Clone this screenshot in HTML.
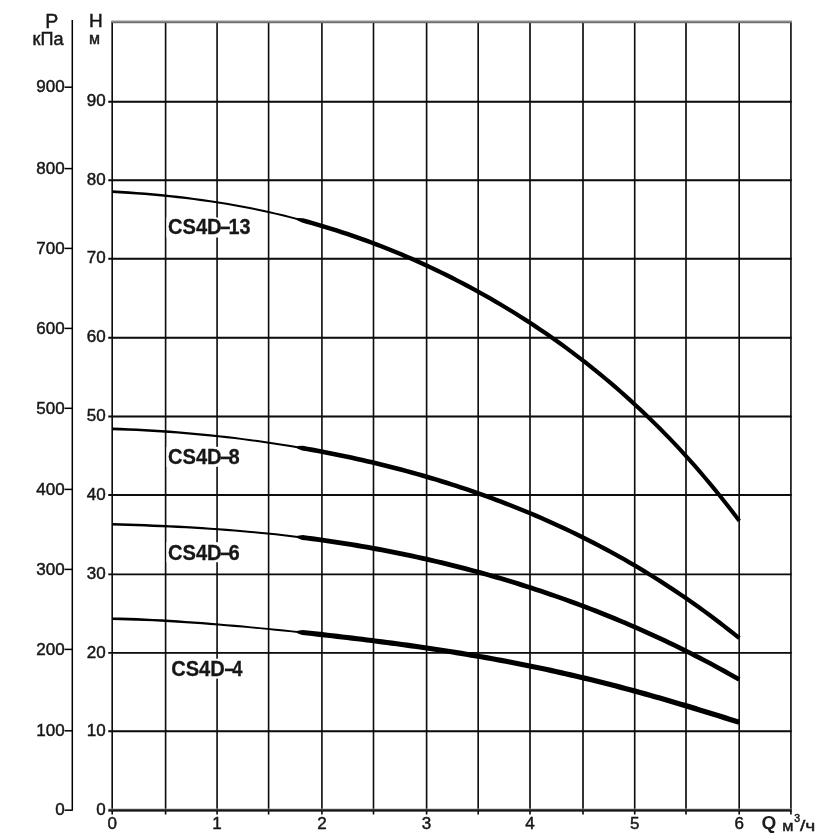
<!DOCTYPE html>
<html lang="ru"><head><meta charset="utf-8"><title>CS4D</title>
<style>html,body{margin:0;padding:0;background:#fff;}body{width:840px;height:840px;overflow:hidden;}svg{display:block;}text{font-family:"Liberation Sans",Arial,Helvetica,sans-serif;fill:#151515;}.n{font-size:17px;stroke:#151515;stroke-width:0.45px;}.b{font-size:21.5px;font-weight:bold;fill:#161616;stroke:#161616;stroke-width:0.3px;}.u{stroke:#151515;stroke-width:0.45px;}</style></head><body>
<svg width="840" height="840" viewBox="0 0 840 840">
<rect width="840" height="840" fill="#fff"/>
<filter id="bl" x="0" y="0" width="840" height="840" filterUnits="userSpaceOnUse"><feGaussianBlur stdDeviation="0.5"/></filter>
<g filter="url(#bl)">
<g stroke="#080808" stroke-width="1.6" fill="none">
<line x1="112.20" y1="21.20" x2="112.20" y2="814.60"/>
<line x1="165.60" y1="21.20" x2="165.60" y2="814.60"/>
<line x1="217.10" y1="21.20" x2="217.10" y2="814.60"/>
<line x1="268.60" y1="21.20" x2="268.60" y2="814.60"/>
<line x1="321.90" y1="21.20" x2="321.90" y2="814.60"/>
<line x1="373.50" y1="21.20" x2="373.50" y2="814.60"/>
<line x1="426.60" y1="21.20" x2="426.60" y2="814.60"/>
<line x1="478.20" y1="21.20" x2="478.20" y2="814.60"/>
<line x1="530.00" y1="21.20" x2="530.00" y2="814.60"/>
<line x1="583.00" y1="21.20" x2="583.00" y2="814.60"/>
<line x1="634.70" y1="21.20" x2="634.70" y2="814.60"/>
<line x1="686.00" y1="21.20" x2="686.00" y2="814.60"/>
<line x1="739.20" y1="21.20" x2="739.20" y2="814.60"/>
<line x1="790.90" y1="21.20" x2="790.90" y2="814.60"/>
</g>
<g stroke="#080808" stroke-width="1.9" fill="none">
<line x1="108.30" y1="101.70" x2="791.60" y2="101.70"/>
<line x1="108.30" y1="180.30" x2="791.60" y2="180.30"/>
<line x1="108.30" y1="258.80" x2="791.60" y2="258.80"/>
<line x1="108.30" y1="337.70" x2="791.60" y2="337.70"/>
<line x1="108.30" y1="416.50" x2="791.60" y2="416.50"/>
<line x1="108.30" y1="495.00" x2="791.60" y2="495.00"/>
<line x1="108.30" y1="574.40" x2="791.60" y2="574.40"/>
<line x1="108.30" y1="652.90" x2="791.60" y2="652.90"/>
<line x1="108.30" y1="731.30" x2="791.60" y2="731.30"/>
</g>
<defs><linearGradient id="gt" x1="0" y1="0" x2="0" y2="1"><stop offset="0" stop-color="#b4b4b4"/><stop offset="1" stop-color="#555"/></linearGradient><linearGradient id="gb" x1="0" y1="0" x2="0" y2="1"><stop offset="0" stop-color="#9a9a9a"/><stop offset="0.45" stop-color="#161616"/><stop offset="1" stop-color="#0a0a0a"/></linearGradient></defs>
<rect x="111.4" y="20.3" width="680.3" height="2.9" fill="url(#gt)"/>
<rect x="108.3" y="808.6" width="683.4" height="3" fill="url(#gb)"/>
<g stroke="#000" stroke-width="1.5" fill="none">
<line x1="72.3" y1="20" x2="72.3" y2="810.8"/>
<line x1="64.6" y1="87.20" x2="72.3" y2="87.20"/>
<line x1="64.6" y1="168.60" x2="72.3" y2="168.60"/>
<line x1="64.6" y1="248.40" x2="72.3" y2="248.40"/>
<line x1="64.6" y1="328.40" x2="72.3" y2="328.40"/>
<line x1="64.6" y1="408.30" x2="72.3" y2="408.30"/>
<line x1="64.6" y1="489.40" x2="72.3" y2="489.40"/>
<line x1="64.6" y1="569.40" x2="72.3" y2="569.40"/>
<line x1="64.6" y1="649.40" x2="72.3" y2="649.40"/>
<line x1="64.6" y1="730.80" x2="72.3" y2="730.80"/>
<line x1="64.6" y1="810.20" x2="72.3" y2="810.20"/>
</g>
<g fill="#fff">
<rect x="166.5" y="217.5" width="86" height="20"/>
<rect x="166.5" y="446.8" width="74" height="20"/>
<rect x="166.5" y="542.2" width="74" height="20"/>
<rect x="169.5" y="658.7" width="74" height="20"/>
</g>
<path d="M112.28,190.26 L120.45,190.78 L128.62,191.35 L136.79,191.96 L144.96,192.62 L153.13,193.34 L161.31,194.11 L169.48,194.95 L177.65,195.86 L185.82,196.83 L194.00,197.88 L202.17,199.00 L210.34,200.19 L218.51,201.47 L226.68,202.82 L234.86,204.25 L243.03,205.77 L251.20,207.37 L259.37,209.06 L267.55,210.84 L275.72,212.69 L283.90,214.62 L292.08,216.65 L300.26,218.78 L299.74,220.71 L291.59,218.57 L283.44,216.52 L275.29,214.56 L267.13,212.70 L258.97,210.96 L250.82,209.30 L242.66,207.73 L234.50,206.25 L226.34,204.85 L218.18,203.54 L210.03,202.31 L201.87,201.16 L193.71,200.09 L185.55,199.10 L177.39,198.17 L169.23,197.31 L161.08,196.52 L152.92,195.79 L144.76,195.12 L136.60,194.51 L128.44,193.95 L120.28,193.43 L112.12,192.96Z" fill="#000"/>
<path d="M297.79,217.99 L303.05,218.24 L308.03,219.60 L313.01,221.01 L317.98,222.44 L322.96,223.92 L327.94,225.43 L332.92,226.98 L337.89,228.56 L342.87,230.18 L347.85,231.84 L352.83,233.54 L357.80,235.27 L362.78,237.04 L367.76,238.85 L372.73,240.69 L377.71,242.58 L382.69,244.50 L387.67,246.46 L392.64,248.46 L397.62,250.50 L402.60,252.58 L407.57,254.70 L412.55,256.86 L417.52,259.06 L422.50,261.30 L427.48,263.57 L432.45,265.90 L437.43,268.26 L442.41,270.66 L447.38,273.11 L452.36,275.60 L457.33,278.13 L462.31,280.70 L467.29,283.32 L472.26,285.98 L477.24,288.69 L482.21,291.44 L487.19,294.24 L492.17,297.08 L497.14,299.97 L502.12,302.91 L507.09,305.90 L512.07,308.93 L517.04,312.02 L522.02,315.15 L526.99,318.33 L531.97,321.57 L536.95,324.86 L541.92,328.20 L546.90,331.59 L551.87,335.05 L556.85,338.55 L561.82,342.11 L566.80,345.73 L571.77,349.41 L576.75,353.15 L581.72,356.95 L586.70,360.81 L591.68,364.74 L596.65,368.73 L601.63,372.78 L606.60,376.91 L611.58,381.10 L616.55,385.36 L621.53,389.69 L626.50,394.10 L631.48,398.58 L636.45,403.13 L641.43,407.77 L646.40,412.48 L651.38,417.27 L656.35,422.15 L661.32,427.11 L666.30,432.16 L671.27,437.29 L676.25,442.52 L681.22,447.84 L686.20,453.25 L691.17,458.76 L696.14,464.37 L701.12,470.08 L706.09,475.90 L711.07,481.82 L716.04,487.84 L721.01,493.99 L725.99,500.24 L730.96,506.61 L735.93,513.10 L740.90,519.71 L737.70,522.10 L732.74,515.52 L727.79,509.06 L722.83,502.73 L717.88,496.50 L712.92,490.40 L707.97,484.40 L703.01,478.51 L698.06,472.72 L693.10,467.05 L688.15,461.47 L683.19,455.99 L678.24,450.60 L673.29,445.31 L668.33,440.12 L663.38,435.01 L658.43,429.99 L653.47,425.06 L648.52,420.21 L643.57,415.45 L638.61,410.76 L633.66,406.16 L628.71,401.63 L623.75,397.18 L618.80,392.80 L613.85,388.49 L608.89,384.26 L603.94,380.09 L598.99,376.00 L594.03,371.97 L589.08,368.00 L584.13,364.10 L579.18,360.27 L574.22,356.49 L569.27,352.77 L564.32,349.12 L559.37,345.52 L554.41,341.98 L549.46,338.50 L544.51,335.07 L539.55,331.70 L534.60,328.38 L529.65,325.11 L524.70,321.90 L519.74,318.74 L514.79,315.62 L509.84,312.56 L504.89,309.55 L499.93,306.58 L494.98,303.66 L490.03,300.79 L485.08,297.97 L480.13,295.19 L475.17,292.46 L470.22,289.77 L465.27,287.13 L460.32,284.53 L455.36,281.97 L450.41,279.46 L445.46,276.99 L440.51,274.56 L435.56,272.18 L430.60,269.83 L425.65,267.53 L420.70,265.27 L415.75,263.04 L410.80,260.86 L405.85,258.72 L400.89,256.62 L395.94,254.56 L390.99,252.53 L386.04,250.55 L381.09,248.60 L376.14,246.70 L371.19,244.83 L366.24,243.00 L361.28,241.21 L356.33,239.45 L351.38,237.73 L346.43,236.05 L341.48,234.41 L336.53,232.80 L331.58,231.23 L326.63,229.70 L321.68,228.20 L316.73,226.74 L311.78,225.32 L306.83,223.93 L301.88,222.57 L297.21,220.17Z" fill="#000"/>
<path d="M112.24,427.48 L120.41,427.78 L128.59,428.13 L136.76,428.53 L144.93,428.98 L153.10,429.47 L161.27,430.01 L169.44,430.61 L177.61,431.25 L185.78,431.94 L193.95,432.68 L202.12,433.47 L210.29,434.30 L218.46,435.19 L226.63,436.12 L234.80,437.10 L242.97,438.13 L251.14,439.21 L259.31,440.34 L267.48,441.53 L275.65,442.74 L283.82,444.00 L292.00,445.32 L300.17,446.69 L299.83,448.66 L291.67,447.27 L283.52,445.93 L275.36,444.64 L267.20,443.41 L259.04,442.26 L250.88,441.16 L242.72,440.11 L234.56,439.11 L226.40,438.17 L218.23,437.27 L210.07,436.43 L201.91,435.64 L193.75,434.90 L185.59,434.21 L177.43,433.57 L169.27,432.98 L161.11,432.43 L152.95,431.93 L144.79,431.49 L136.63,431.09 L128.47,430.73 L120.32,430.43 L112.16,430.17Z" fill="#000"/>
<path d="M297.70,446.09 L302.87,445.80 L307.84,446.67 L312.81,447.58 L317.79,448.50 L322.76,449.45 L327.73,450.41 L332.71,451.40 L337.68,452.41 L342.65,453.44 L347.63,454.50 L352.60,455.57 L357.57,456.67 L362.55,457.79 L367.52,458.94 L372.49,460.11 L377.47,461.30 L382.44,462.51 L387.41,463.75 L392.39,465.01 L397.36,466.30 L402.33,467.61 L407.31,468.95 L412.28,470.32 L417.26,471.70 L422.23,473.12 L427.20,474.56 L432.18,476.03 L437.15,477.52 L442.13,479.04 L447.10,480.59 L452.07,482.17 L457.05,483.78 L462.02,485.41 L467.00,487.07 L471.97,488.77 L476.95,490.49 L481.92,492.24 L486.90,494.02 L491.87,495.84 L496.84,497.68 L501.82,499.56 L506.79,501.47 L511.77,503.41 L516.74,505.39 L521.72,507.39 L526.69,509.43 L531.67,511.51 L536.64,513.62 L541.62,515.77 L546.59,517.95 L551.57,520.17 L556.54,522.42 L561.52,524.71 L566.50,527.04 L571.47,529.41 L576.45,531.81 L581.42,534.25 L586.40,536.74 L591.37,539.26 L596.35,541.83 L601.32,544.43 L606.30,547.08 L611.27,549.77 L616.25,552.50 L621.22,555.28 L626.20,558.10 L631.18,560.96 L636.15,563.87 L641.13,566.83 L646.10,569.83 L651.08,572.88 L656.05,575.98 L661.03,579.12 L666.00,582.31 L670.98,585.56 L675.95,588.85 L680.93,592.19 L685.90,595.59 L690.88,599.04 L695.85,602.54 L700.83,606.09 L705.80,609.70 L710.78,613.36 L715.75,617.08 L720.73,620.86 L725.70,624.69 L730.67,628.58 L735.65,632.53 L740.62,636.54 L737.98,639.80 L733.02,635.82 L728.07,631.89 L723.12,628.02 L718.16,624.21 L713.21,620.46 L708.26,616.77 L703.30,613.12 L698.35,609.54 L693.40,606.01 L688.44,602.53 L683.49,599.10 L678.54,595.73 L673.58,592.41 L668.63,589.13 L663.68,585.91 L658.72,582.74 L653.77,579.62 L648.82,576.54 L643.87,573.51 L638.91,570.53 L633.96,567.59 L629.01,564.70 L624.05,561.86 L619.10,559.06 L614.15,556.30 L609.20,553.59 L604.24,550.92 L599.29,548.29 L594.34,545.70 L589.39,543.15 L584.43,540.65 L579.48,538.18 L574.53,535.75 L569.57,533.37 L564.62,531.02 L559.67,528.70 L554.72,526.43 L549.76,524.19 L544.81,521.99 L539.86,519.83 L534.90,517.70 L529.95,515.60 L525.00,513.54 L520.04,511.51 L515.09,509.52 L510.14,507.56 L505.19,505.63 L500.23,503.74 L495.28,501.88 L490.33,500.05 L485.37,498.25 L480.42,496.48 L475.47,494.74 L470.51,493.03 L465.56,491.35 L460.60,489.70 L455.65,488.08 L450.70,486.48 L445.74,484.92 L440.79,483.38 L435.84,481.87 L430.88,480.39 L425.93,478.93 L420.97,477.50 L416.02,476.10 L411.06,474.72 L406.11,473.37 L401.16,472.04 L396.20,470.74 L391.25,469.46 L386.29,468.21 L381.34,466.98 L376.38,465.78 L371.43,464.60 L366.47,463.44 L361.52,462.31 L356.57,461.19 L351.61,460.11 L346.66,459.04 L341.70,457.99 L336.75,456.97 L331.79,455.97 L326.84,454.99 L321.88,454.04 L316.93,453.10 L311.97,452.18 L307.02,451.29 L302.06,450.41 L297.30,448.41Z" fill="#000"/>
<path d="M112.24,522.92 L120.41,523.19 L128.57,523.47 L136.74,523.77 L144.91,524.09 L153.08,524.44 L161.24,524.80 L169.41,525.20 L177.58,525.62 L185.75,526.07 L193.92,526.56 L202.09,527.07 L210.25,527.63 L218.42,528.21 L226.59,528.83 L234.76,529.49 L242.93,530.18 L251.10,530.92 L259.27,531.70 L267.44,532.53 L275.61,533.37 L283.78,534.26 L291.95,535.19 L300.12,536.17 L299.88,538.16 L291.72,537.15 L283.56,536.19 L275.40,535.28 L267.24,534.42 L259.08,533.63 L250.92,532.88 L242.76,532.18 L234.60,531.51 L226.43,530.89 L218.27,530.30 L210.11,529.76 L201.95,529.26 L193.79,528.79 L185.63,528.35 L177.46,527.94 L169.30,527.57 L161.14,527.22 L152.98,526.90 L144.81,526.61 L136.65,526.33 L128.49,526.08 L120.32,525.84 L112.16,525.62Z" fill="#000"/>
<path d="M297.65,535.64 L302.77,535.05 L307.74,535.68 L312.72,536.34 L317.69,537.02 L322.66,537.71 L327.63,538.42 L332.61,539.15 L337.58,539.90 L342.55,540.67 L347.53,541.46 L352.50,542.27 L357.47,543.10 L362.44,543.95 L367.42,544.82 L372.39,545.71 L377.36,546.62 L382.34,547.54 L387.31,548.49 L392.28,549.47 L397.26,550.46 L402.23,551.47 L407.20,552.50 L412.18,553.56 L417.15,554.63 L422.12,555.73 L427.10,556.85 L432.07,557.99 L437.04,559.15 L442.02,560.33 L446.99,561.54 L451.96,562.77 L456.94,564.02 L461.91,565.29 L466.88,566.58 L471.86,567.90 L476.83,569.24 L481.80,570.60 L486.78,571.99 L491.75,573.40 L496.73,574.83 L501.70,576.29 L506.67,577.77 L511.65,579.27 L516.62,580.80 L521.59,582.35 L526.57,583.92 L531.54,585.52 L536.51,587.15 L541.49,588.80 L546.46,590.47 L551.43,592.17 L556.41,593.89 L561.38,595.64 L566.36,597.41 L571.33,599.21 L576.30,601.04 L581.28,602.89 L586.25,604.77 L591.22,606.67 L596.20,608.61 L601.17,610.56 L606.14,612.55 L611.12,614.56 L616.09,616.60 L621.07,618.67 L626.04,620.77 L631.01,622.90 L635.99,625.05 L640.96,627.23 L645.94,629.45 L650.91,631.69 L655.88,633.96 L660.86,636.26 L665.83,638.60 L670.81,640.96 L675.78,643.36 L680.75,645.79 L685.73,648.24 L690.70,650.74 L695.68,653.26 L700.65,655.82 L705.62,658.41 L710.60,661.04 L715.57,663.70 L720.55,666.39 L725.52,669.12 L730.50,671.89 L735.47,674.69 L740.45,677.53 L738.15,681.52 L733.20,678.70 L728.25,675.91 L723.29,673.16 L718.34,670.44 L713.39,667.76 L708.43,665.12 L703.48,662.51 L698.52,659.93 L693.57,657.39 L688.62,654.87 L683.66,652.40 L678.71,649.95 L673.76,647.54 L668.80,645.15 L663.85,642.80 L658.89,640.48 L653.94,638.19 L648.98,635.93 L644.03,633.70 L639.08,631.50 L634.12,629.33 L629.17,627.19 L624.21,625.08 L619.26,622.99 L614.31,620.93 L609.35,618.90 L604.40,616.90 L599.44,614.93 L594.49,612.98 L589.53,611.06 L584.58,609.17 L579.62,607.30 L574.67,605.46 L569.72,603.64 L564.76,601.85 L559.81,600.09 L554.85,598.35 L549.90,596.64 L544.94,594.95 L539.99,593.29 L535.03,591.65 L530.08,590.03 L525.13,588.44 L520.17,586.88 L515.22,585.34 L510.26,583.82 L505.31,582.33 L500.35,580.86 L495.40,579.41 L490.44,577.98 L485.49,576.58 L480.53,575.21 L475.58,573.85 L470.63,572.52 L465.67,571.21 L460.72,569.92 L455.76,568.66 L450.81,567.42 L445.85,566.20 L440.90,565.00 L435.94,563.83 L430.99,562.67 L426.03,561.54 L421.08,560.43 L416.12,559.34 L411.17,558.27 L406.21,557.22 L401.26,556.20 L396.30,555.19 L391.35,554.21 L386.39,553.25 L381.44,552.30 L376.49,551.38 L371.53,550.48 L366.58,549.60 L361.62,548.74 L356.67,547.89 L351.71,547.07 L346.76,546.27 L341.80,545.49 L336.84,544.72 L331.89,543.98 L326.93,543.25 L321.98,542.54 L317.02,541.86 L312.07,541.19 L307.11,540.53 L302.16,539.89 L297.35,538.07Z" fill="#000"/>
<path d="M112.22,617.41 L120.40,617.58 L128.57,617.83 L136.74,618.12 L144.92,618.47 L153.09,618.88 L161.26,619.32 L169.43,619.81 L177.60,620.34 L185.76,620.90 L193.93,621.49 L202.10,622.12 L210.27,622.77 L218.43,623.45 L226.60,624.15 L234.77,624.87 L242.93,625.61 L251.10,626.38 L259.27,627.16 L267.43,627.96 L275.60,628.75 L283.77,629.56 L291.94,630.39 L300.11,631.23 L299.89,633.22 L291.73,632.35 L283.57,631.50 L275.41,630.67 L267.25,629.86 L259.08,629.09 L250.92,628.34 L242.75,627.60 L234.59,626.89 L226.43,626.21 L218.26,625.54 L210.10,624.91 L201.94,624.30 L193.77,623.72 L185.61,623.17 L177.45,622.66 L169.29,622.18 L161.13,621.74 L152.97,621.34 L144.81,620.99 L136.65,620.68 L128.49,620.43 L120.33,620.24 L112.18,620.10Z" fill="#000"/>
<path d="M297.63,630.69 L302.73,629.96 L307.70,630.48 L312.67,631.02 L317.64,631.57 L322.60,632.12 L327.57,632.67 L332.54,633.24 L337.51,633.81 L342.47,634.39 L347.44,634.97 L352.41,635.56 L357.38,636.16 L362.35,636.77 L367.31,637.39 L372.28,638.01 L377.25,638.64 L382.22,639.28 L387.19,639.93 L392.16,640.59 L397.13,641.26 L402.09,641.93 L407.06,642.62 L412.03,643.31 L417.00,644.02 L421.97,644.74 L426.94,645.46 L431.91,646.20 L436.88,646.95 L441.85,647.71 L446.82,648.48 L451.79,649.27 L456.76,650.06 L461.73,650.87 L466.70,651.69 L471.67,652.53 L476.65,653.38 L481.62,654.24 L486.59,655.11 L491.56,656.00 L496.53,656.91 L501.50,657.82 L506.47,658.76 L511.44,659.70 L516.42,660.67 L521.39,661.65 L526.36,662.64 L531.33,663.65 L536.30,664.67 L541.28,665.71 L546.25,666.77 L551.22,667.84 L556.19,668.93 L561.17,670.04 L566.14,671.16 L571.11,672.30 L576.08,673.46 L581.05,674.63 L586.03,675.82 L591.00,677.02 L595.97,678.24 L600.94,679.48 L605.92,680.73 L610.89,682.00 L615.86,683.29 L620.83,684.59 L625.80,685.91 L630.78,687.25 L635.75,688.60 L640.72,689.96 L645.69,691.34 L650.66,692.73 L655.63,694.14 L660.60,695.56 L665.57,697.00 L670.54,698.45 L675.51,699.91 L680.48,701.38 L685.45,702.87 L690.42,704.37 L695.39,705.87 L700.36,707.39 L705.33,708.92 L710.30,710.45 L715.27,712.00 L720.23,713.55 L725.20,715.10 L730.17,716.67 L735.13,718.24 L740.10,719.81 L738.50,724.86 L733.54,723.29 L728.58,721.72 L723.61,720.15 L718.65,718.60 L713.69,717.05 L708.73,715.50 L703.77,713.97 L698.81,712.44 L693.85,710.93 L688.90,709.42 L683.94,707.92 L678.98,706.44 L674.02,704.97 L669.06,703.51 L664.10,702.06 L659.15,700.62 L654.19,699.20 L649.23,697.80 L644.28,696.40 L639.32,695.03 L634.36,693.66 L629.41,692.31 L624.45,690.98 L619.49,689.67 L614.54,688.36 L609.58,687.08 L604.63,685.81 L599.67,684.56 L594.71,683.32 L589.76,682.10 L584.80,680.90 L579.85,679.71 L574.89,678.54 L569.93,677.39 L564.98,676.25 L560.02,675.13 L555.07,674.03 L550.11,672.94 L545.16,671.87 L540.20,670.81 L535.24,669.77 L530.29,668.75 L525.33,667.74 L520.38,666.75 L515.42,665.77 L510.46,664.81 L505.51,663.86 L500.55,662.93 L495.59,662.01 L490.64,661.11 L485.68,660.22 L480.72,659.34 L475.77,658.48 L470.81,657.63 L465.85,656.80 L460.89,655.98 L455.94,655.17 L450.98,654.37 L446.02,653.59 L441.06,652.82 L436.11,652.05 L431.15,651.30 L426.19,650.57 L421.23,649.84 L416.27,649.12 L411.31,648.42 L406.35,647.72 L401.39,647.03 L396.44,646.36 L391.48,645.69 L386.52,645.03 L381.56,644.38 L376.60,643.74 L371.64,643.10 L366.68,642.48 L361.72,641.86 L356.76,641.25 L351.80,640.65 L346.84,640.06 L341.88,639.47 L336.92,638.89 L331.96,638.32 L327.00,637.75 L322.04,637.20 L317.08,636.64 L312.12,636.10 L307.15,635.56 L302.19,635.02 L297.37,633.23Z" fill="#000"/>
<text class="n" x="105.6" y="106.3" text-anchor="end">90</text>
<text class="n" x="105.6" y="184.9" text-anchor="end">80</text>
<text class="n" x="105.6" y="263.4" text-anchor="end">70</text>
<text class="n" x="105.6" y="342.3" text-anchor="end">60</text>
<text class="n" x="105.6" y="421.1" text-anchor="end">50</text>
<text class="n" x="105.6" y="499.6" text-anchor="end">40</text>
<text class="n" x="105.6" y="579.0" text-anchor="end">30</text>
<text class="n" x="105.6" y="657.5" text-anchor="end">20</text>
<text class="n" x="105.6" y="735.9" text-anchor="end">10</text>
<text class="n" x="105.6" y="814.7" text-anchor="end">0</text>
<text class="n" x="64.6" y="92.4" text-anchor="end">900</text>
<text class="n" x="64.6" y="173.8" text-anchor="end">800</text>
<text class="n" x="64.6" y="253.6" text-anchor="end">700</text>
<text class="n" x="64.6" y="333.6" text-anchor="end">600</text>
<text class="n" x="64.6" y="413.5" text-anchor="end">500</text>
<text class="n" x="64.6" y="494.6" text-anchor="end">400</text>
<text class="n" x="64.6" y="574.6" text-anchor="end">300</text>
<text class="n" x="64.6" y="654.6" text-anchor="end">200</text>
<text class="n" x="64.6" y="736.0" text-anchor="end">100</text>
<text class="n" x="64.6" y="815.4" text-anchor="end">0</text>
<text class="n" x="112.2" y="829" text-anchor="middle">0</text>
<text class="n" x="217.1" y="829" text-anchor="middle">1</text>
<text class="n" x="321.9" y="829" text-anchor="middle">2</text>
<text class="n" x="426.6" y="829" text-anchor="middle">3</text>
<text class="n" x="530.0" y="829" text-anchor="middle">4</text>
<text class="n" x="634.7" y="829" text-anchor="middle">5</text>
<text class="n" x="739.2" y="829" text-anchor="middle">6</text>
<text class="u" x="45.2" y="27.5" style="font-size:19.5px">P</text>
<text class="u" x="32.6" y="45" style="font-size:18px" textLength="31" lengthAdjust="spacingAndGlyphs">кПа</text>
<text class="u" x="88.9" y="26.6" style="font-size:19px">H</text>
<text class="u" x="89.1" y="44.4" style="font-size:16px">м</text>
<text x="761.4" y="828.8" style="font-size:19px;font-weight:bold;fill:#1a1a1a">Q</text>
<text class="u" x="782.2" y="831.2" style="font-size:15.5px" textLength="11.2" lengthAdjust="spacingAndGlyphs">м</text>
<text class="u" x="794.3" y="822" style="font-size:10.5px">3</text>
<text class="u" x="800" y="831.2" style="font-size:15.5px" textLength="15.3" lengthAdjust="spacingAndGlyphs">/ч</text>
<text class="b" x="168.0" y="234.0" textLength="53.6" lengthAdjust="spacingAndGlyphs">CS4D</text>
<text class="b" x="220.0" y="234.0" textLength="10.4" lengthAdjust="spacingAndGlyphs">–</text>
<text class="b" x="228.6" y="234.0" textLength="22.0" lengthAdjust="spacingAndGlyphs">13</text>
<text class="b" x="168.0" y="464.1" textLength="53.6" lengthAdjust="spacingAndGlyphs">CS4D</text>
<text class="b" x="220.0" y="464.1" textLength="10.4" lengthAdjust="spacingAndGlyphs">–</text>
<text class="b" x="228.6" y="464.1" textLength="11.2" lengthAdjust="spacingAndGlyphs">8</text>
<text class="b" x="168.0" y="559.6" textLength="53.6" lengthAdjust="spacingAndGlyphs">CS4D</text>
<text class="b" x="220.0" y="559.6" textLength="10.4" lengthAdjust="spacingAndGlyphs">–</text>
<text class="b" x="228.6" y="559.6" textLength="11.2" lengthAdjust="spacingAndGlyphs">6</text>
<text class="b" x="171.2" y="675.9" textLength="53.6" lengthAdjust="spacingAndGlyphs">CS4D</text>
<text class="b" x="224.4" y="675.9" textLength="9.4" lengthAdjust="spacingAndGlyphs">–</text>
<text class="b" x="232.2" y="675.9" textLength="10.2" lengthAdjust="spacingAndGlyphs">4</text>
</g></svg></body></html>
